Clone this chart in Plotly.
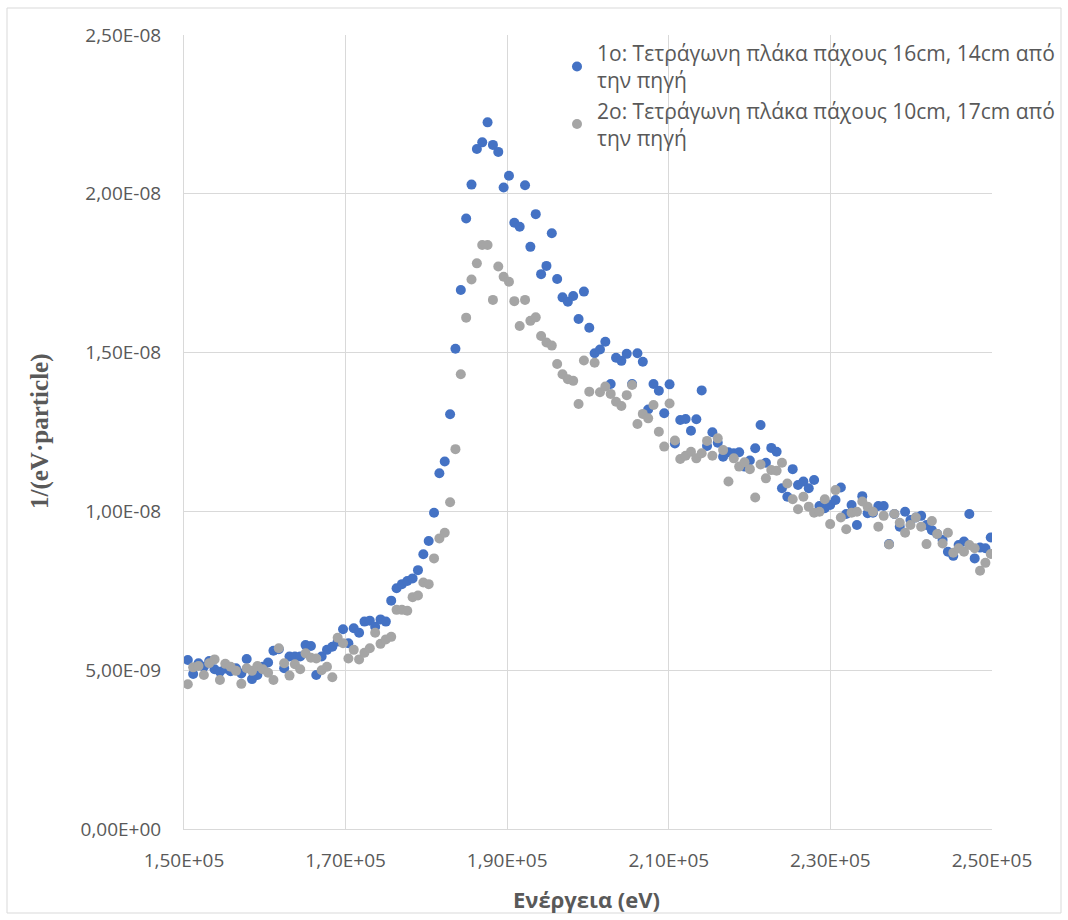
import plotly.graph_objects as go

# Energy of each channel (eV)
energy_ev = [
    150470, 151133, 151795, 152458, 153120, 153783, 154445, 155108, 155770, 156433,
    157095, 157758, 158420, 159083, 159745, 160408, 161070, 161733, 162395, 163058,
    163720, 164383, 165045, 165708, 166370, 167033, 167695, 168358, 169020, 169683,
    170345, 171008, 171670, 172333, 172995, 173658, 174320, 174983, 175645, 176308,
    176970, 177633, 178295, 178958, 179620, 180283, 180945, 181608, 182270, 182933,
    183595, 184258, 184920, 185583, 186245, 186908, 187570, 188233, 188895, 189558,
    190220, 190883, 191545, 192208, 192870, 193533, 194195, 194858, 195520, 196183,
    196845, 197508, 198170, 198833, 199495, 200158, 200820, 201483, 202145, 202808,
    203470, 204133, 204795, 205458, 206120, 206783, 207445, 208108, 208770, 209433,
    210095, 210758, 211420, 212083, 212745, 213408, 214070, 214733, 215395, 216058,
    216720, 217383, 218045, 218708, 219370, 220033, 220695, 221358, 222020, 222683,
    223345, 224008, 224670, 225333, 225995, 226658, 227320, 227983, 228645, 229308,
    229970, 230633, 231295, 231958, 232620, 233283, 233945, 234608, 235270, 235933,
    236595, 237258, 237920, 238583, 239245, 239908, 240570, 241233, 241895, 242558,
    243220, 243883, 244545, 245208, 245870, 246533, 247195, 247858, 248520, 249183,
    249845,
]

# Slab 1: 16 cm thick, 14 cm from the source  (units of 1e-9 per eV per particle)
slab1_e9 = [
    5.32, 4.88, 5.22, 5.11, 5.29, 5.03, 4.95, 5.05, 4.97, 5.06,
    4.90, 5.35, 4.72, 4.85, 5.11, 5.24, 5.61, 5.66, 5.06, 5.43,
    5.43, 5.43, 5.79, 5.76, 4.85, 5.43, 5.64, 5.74, 5.90, 6.29,
    5.85, 6.32, 6.18, 6.53, 6.56, 6.37, 6.60, 6.53, 7.19, 7.58,
    7.71, 7.81, 7.89, 8.15, 8.65, 9.07, 9.96, 11.20, 11.57, 13.06,
    15.12, 16.97, 19.22, 20.29, 21.41, 21.62, 22.25, 21.54, 21.32, 20.20,
    20.57, 19.09, 18.96, 20.27, 18.33, 19.36, 17.47, 17.73, 18.76, 17.32,
    16.74, 16.60, 16.78, 16.06, 16.92, 15.78, 14.98, 15.10, 15.34, 14.01,
    14.84, 14.74, 14.96, 14.01, 14.98, 14.71, 13.21, 14.01, 13.80, 13.09,
    14.00, 12.14, 12.88, 12.91, 12.54, 12.90, 13.81, 12.06, 12.49, 12.16,
    11.72, 11.86, 11.83, 11.86, 11.41, 11.60, 11.99, 12.72, 11.53, 12.00,
    11.88, 10.73, 10.46, 11.33, 10.83, 10.94, 10.73, 10.99, 10.17, 10.10,
    10.20, 10.36, 10.75, 9.92, 10.20, 9.57, 10.48, 9.94, 9.96, 10.17,
    10.17, 8.97, 9.92, 9.52, 9.99, 9.73, 9.81, 9.86, 9.57, 9.41,
    9.29, 9.10, 8.73, 8.60, 8.94, 9.05, 9.92, 8.52, 8.86, 8.84,
    9.18,
]

# Slab 2: 10 cm thick, 17 cm from the source  (units of 1e-9 per eV per particle)
slab2_e9 = [
    4.56, 5.09, 5.13, 4.85, 5.22, 5.34, 4.69, 5.20, 5.11, 4.98,
    4.57, 5.06, 4.98, 5.13, 5.03, 4.92, 4.69, 5.69, 5.22, 4.83,
    5.19, 5.03, 5.53, 5.39, 5.37, 5.00, 5.11, 4.78, 6.02, 5.85,
    5.37, 5.64, 5.34, 5.55, 5.69, 6.18, 5.83, 5.97, 6.05, 6.90,
    6.90, 6.87, 7.30, 7.35, 7.76, 7.71, 8.52, 9.15, 9.33, 10.29,
    11.96, 14.32, 16.10, 17.30, 17.81, 18.39, 18.39, 16.66, 17.71, 17.39,
    17.23, 16.62, 15.84, 16.66, 16.00, 16.11, 15.52, 15.32, 15.22, 14.64,
    14.32, 14.16, 14.11, 13.38, 14.75, 13.77, 14.68, 13.75, 13.93, 13.70,
    13.45, 13.32, 13.66, 13.98, 12.75, 13.07, 12.93, 13.35, 12.51, 12.04,
    13.40, 12.23, 11.65, 11.75, 11.88, 11.67, 11.83, 12.22, 11.75, 12.30,
    11.93, 10.94, 11.67, 11.41, 11.55, 11.33, 10.44, 11.48, 11.04, 11.30,
    11.28, 11.53, 10.88, 10.38, 10.07, 10.46, 10.15, 9.96, 9.99, 10.38,
    9.60, 10.67, 9.81, 9.44, 9.96, 9.99, 10.31, 10.15, 9.99, 9.52,
    9.86, 8.96, 9.92, 9.64, 9.33, 9.57, 9.81, 9.52, 8.97, 9.70,
    9.29, 8.99, 9.33, 8.70, 8.84, 8.73, 8.94, 8.84, 8.13, 8.38,
    8.66,
]

series_names = [
    "1ο: Τετράγωνη πλάκα πάχους 16cm, 14cm από<br>την πηγή",
    "2ο: Τετράγωνη πλάκα πάχους 10cm, 17cm από<br>την πηγή",
]
series_colors = ["#4472C4", "#A5A5A5"]

x_tick_vals = [150000, 170000, 190000, 210000, 230000, 250000]
x_tick_text = ["1,50E+05", "1,70E+05", "1,90E+05", "2,10E+05", "2,30E+05", "2,50E+05"]
y_tick_vals = [0, 5e-9, 1e-8, 1.5e-8, 2e-8, 2.5e-8]
y_tick_text = ["0,00E+00", "5,00E-09", "1,00E-08", "1,50E-08", "2,00E-08", "2,50E-08"]

TEXT_GRAY = "#595959"
GRID_GRAY = "#D9D9D9"
FONT = "Open Sans"

fig = go.Figure()
for name, color, vals in zip(series_names, series_colors, [slab1_e9, slab2_e9]):
    fig.add_trace(go.Scatter(
        x=energy_ev,
        y=[v * 1e-9 for v in vals],
        mode="markers",
        name=name,
        marker=dict(color=color, size=10, line=dict(width=0)),
    ))

fig.update_xaxes(
    range=[150000, 250000],
    tickvals=x_tick_vals,
    ticktext=x_tick_text,
    showgrid=True, gridcolor=GRID_GRAY, gridwidth=1,
    zeroline=False,
    showline=True, linecolor=GRID_GRAY, linewidth=1,
    ticks="", ticklabelstandoff=14,
    tickfont=dict(family=FONT, size=19, color=TEXT_GRAY),
)
fig.update_yaxes(
    range=[0, 2.5e-8],
    tickvals=y_tick_vals,
    ticktext=y_tick_text,
    showgrid=True, gridcolor=GRID_GRAY, gridwidth=1,
    zeroline=False,
    showline=True, linecolor=GRID_GRAY, linewidth=1,
    ticks="", ticklabelstandoff=18,
    tickfont=dict(family=FONT, size=19, color=TEXT_GRAY),
)

# axis titles
fig.add_annotation(
    text="<b>1/(eV·particle)</b>", textangle=-90,
    xref="paper", yref="paper", x=(40 - 184) / 808, y=(829 - 431) / 794,
    xanchor="center", yanchor="middle", showarrow=False,
    font=dict(family="Liberation Serif", size=25, color=TEXT_GRAY),
)
fig.add_annotation(
    text="<b>Ενέργεια (eV)</b>",
    xref="paper", yref="paper", x=(586 - 184) / 808, y=(829 - 899) / 794,
    xanchor="center", yanchor="middle", showarrow=False,
    font=dict(family=FONT, size=22, color=TEXT_GRAY),
)

# chart frame
fig.add_shape(
    type="rect", xref="paper", yref="paper",
    x0=(7 - 184) / 808, x1=(1061 - 184) / 808,
    y0=(829 - 913) / 794, y1=(829 - 8) / 794,
    line=dict(color=GRID_GRAY, width=1), fillcolor="rgba(0,0,0,0)", layer="below",
)

fig.update_layout(
    width=1068, height=920,
    margin=dict(l=184, r=76, t=35, b=91, autoexpand=False),
    paper_bgcolor="white", plot_bgcolor="white",
    showlegend=True,
    legend=dict(
        x=(557 - 184) / 808, y=1.003, xanchor="left", yanchor="top",
        bgcolor="rgba(0,0,0,0)", borderwidth=0,
        font=dict(family=FONT, size=21, color=TEXT_GRAY),
        tracegroupgap=0, itemclick=False,
    ),
)

fig.write_html("out.html")
